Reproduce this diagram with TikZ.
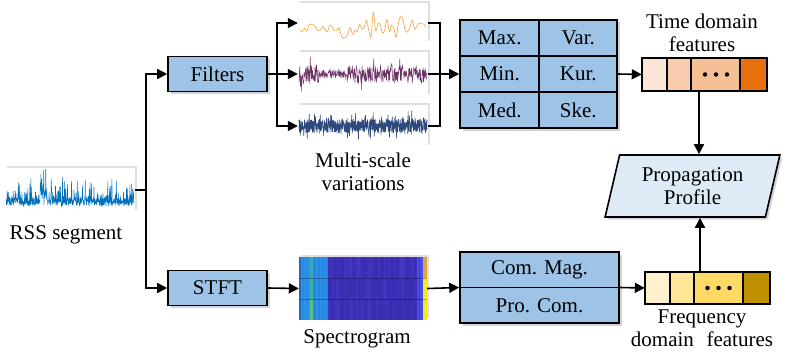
\documentclass[tikz,border=0pt]{standalone}
\usepackage{fontspec}
\setmainfont{Liberation Serif}
\usetikzlibrary{shapes.geometric,shadows,arrows.meta,calc}
\definecolor{boxblue}{HTML}{9DC3E6}
\definecolor{profblue}{HTML}{DEEBF7}
\definecolor{tA}{HTML}{FBE5D6}
\definecolor{tB}{HTML}{F8CBAD}
\definecolor{tC}{HTML}{F6C097}
\definecolor{tD}{HTML}{E8700F}
\definecolor{fA}{HTML}{FFF2CC}
\definecolor{fB}{HTML}{FFE699}
\definecolor{fC}{HTML}{FFD966}
\definecolor{fD}{HTML}{BF9000}
\definecolor{sigorange}{HTML}{F5A33B}
\definecolor{sigpurple}{HTML}{6E3366}
\definecolor{signavy}{HTML}{2E4A7D}
\definecolor{rssblue}{HTML}{0072BD}
\definecolor{spLight}{HTML}{2B93E6}
\definecolor{spMid}{HTML}{2A84E4}
\definecolor{spGreen}{HTML}{38B89A}
\definecolor{spDark}{HTML}{3A2DB0}
\definecolor{spDark2}{HTML}{4538C8}
\definecolor{spEdge}{HTML}{4A4FE6}
\definecolor{spYel}{HTML}{F5E81E}
\definecolor{spOr}{HTML}{E2A535}
\newcommand\fs{\fontsize{21}{23.5}\selectfont}
\begin{document}
\begin{tikzpicture}[x=1pt,y=-1pt,
  every node/.style={font=\fs},
  proc/.style={draw, line width=1.6pt, fill=boxblue, minimum width=99pt, minimum height=35pt,
    drop shadow={shadow xshift=2.5pt, shadow yshift=-2.5pt, opacity=0.35}},
  frame/.style={fill=white, minimum width=130pt, inner sep=0pt,
    drop shadow={shadow xshift=2pt, shadow yshift=2pt, opacity=0.25}},
  cell/.style={draw, line width=1.3pt, minimum width=79pt, minimum height=36pt, inner sep=0pt},
  vcell/.style={draw, line width=1.5pt, minimum height=33pt, inner sep=0pt},
  ln/.style={line width=1.6pt},
  arr/.style={line width=1.6pt, -{Triangle[length=10pt,width=10pt]}},
  dot/.style={circle, fill=black, inner sep=0pt, minimum size=4.5pt}
]
\useasboundingbox (0,0) rectangle (788,353);

% ---------- RSS segment ----------
\node[frame, minimum height=44pt] (rss) at (70,190) {};
\pgfmathsetseed{7}
\draw[rssblue, line width=0.5pt] plot[domain=0:128, samples=500]
  ({6+\x},{206 - 8*rnd - 24*rnd^7 - ifthenelse(\x>34 && \x<41, 16*rnd, 0)});
\node (rsslbl) at (66,235) {RSS segment};

% ---------- Filters / STFT ----------
\node[proc] (filters) at (217.5,74) {Filters};
\node[proc] (stft) at (217.5,288) {STFT};
\coordinate (j1) at ([xshift=11pt]rss.east);
\draw[ln] (rss.east) -- (j1);
\draw[arr] (j1) |- (filters.west);
\draw[arr] (j1) |- (stft.west);

% ---------- multi-scale signals ----------
\node[frame, minimum height=40pt] (sigO) at (363,23) {};
\node[frame, minimum height=44pt] (sigP) at (363,74) {};
\node[frame, minimum height=42pt] (sigB) at (363,126) {};
\pgfmathsetseed{11}
\draw[sigorange, line width=0.6pt] plot[smooth, tension=0.6, domain=0:126, samples=56]
  ({300+\x},{30 - (2*rnd-0.7)*(2+13*rnd^1.3)});
\pgfmathsetseed{3}
\draw[sigpurple, line width=0.5pt] plot[domain=0:128, samples=330]
  ({299+\x},{74 + ifthenelse(\x>20 && \x<48, 4, 9)*(2*rnd-1)*(1+1.2*(rnd>0.88))});
\pgfmathsetseed{5}
\draw[signavy, line width=0.6pt] plot[domain=0:128, samples=700]
  ({299+\x},{126 + 7*(2*rnd-1) - 10*rnd^14 + 9*rnd^16});
\node[align=center] (mslbl) at (363,172) {Multi-scale\\variations};

\coordinate (j2) at ([xshift=9pt]filters.east);
\draw[ln] (filters.east) -- (j2);
\draw[arr] (j2) |- (sigO.west);
\draw[arr] (j2) -- (sigP.west);
\draw[arr] (j2) |- (sigB.west);

% ---------- statistics table ----------
\node[draw, line width=1.6pt, fill=boxblue, minimum width=157pt, minimum height=108pt,
  drop shadow={shadow xshift=2.5pt, shadow yshift=-2.5pt, opacity=0.35}] (tbl) at (538.5,74) {};
\node[cell] (c11) at (499.75,38) {Max.};
\node[cell] (c12) at (578.25,38) {Var.};
\node[cell] (c21) at (499.75,74) {Min.};
\node[cell] (c22) at (578.25,74) {Kur.};
\node[cell] (c31) at (499.75,110) {Med.};
\node[cell] (c32) at (578.25,110) {Ske.};

\coordinate (j3) at ([xshift=12pt]sigO.east);
\draw[ln] (sigO.east) -- (j3) |- (sigB.east);
\draw[arr] (sigP.east) -- (tbl.west);

% ---------- time-domain feature vector ----------
\node[minimum width=125pt, minimum height=33pt, inner sep=0pt] (tv) at (704.5,74.5) {};
\node[vcell, fill=tA, minimum width=25pt] (t1) at (654.5,74.5) {};
\node[vcell, fill=tB, minimum width=24pt] (t2) at (679,74.5) {};
\node[vcell, fill=tC, minimum width=49pt] (t3) at (715.5,74.5) {};
\node[vcell, fill=tD, minimum width=27pt] (t4) at (753.5,74.5) {};
\node[dot] (td1) at (705,74.5) {};
\node[dot] (td2) at (716,74.5) {};
\node[dot] (td3) at (727,74.5) {};
\node[align=center] (tlbl) at (702,33) {Time domain\\features};
\draw[arr] (tbl.east) -- (tv.west);

% ---------- propagation profile ----------
\node[trapezium, trapezium left angle=75, trapezium right angle=105, trapezium stretches=true,
  draw, line width=1.6pt, fill=profblue, minimum width=175pt, minimum height=62pt,
  align=center, inner sep=0pt,
  drop shadow={shadow xshift=2.5pt, shadow yshift=-2.5pt, opacity=0.35}] (prof) at (692.5,186)
  {Propagation\\Profile};
\draw[arr] ([xshift=-5.5pt]tv.south) -- ([xshift=-5.5pt]tv.south |- prof.north);

% ---------- spectrogram ----------
\node[frame, minimum width=128pt, minimum height=63pt] (spec) at (363,288.5) {};
\fill[spLight] (299,257) rectangle (310,320);
\fill[spMid!80!black] (299,257) rectangle (301,320);
\foreach \xx in {303,306} { \fill[spMid] (\xx,257) rectangle (\xx+1,320); }
\fill[spGreen!70!spLight] (310,257) rectangle (312.5,278);
\fill[spGreen!85!spLight] (310,278) rectangle (312.5,299);
\fill[spGreen!80!yellow!90!spLight] (310,299) rectangle (312.5,320);
\fill[spMid] (312.5,257) rectangle (328,320);
\foreach \xx in {316,320,324} { \fill[spLight] (\xx,257) rectangle (\xx+1.5,320); }
\pgfmathsetseed{21}
\foreach \i in {0,...,44} {
  \foreach \r in {0,1,2} {
    \pgfmathsetmacro{\mixv}{int(100*rnd^2.5)}
    \fill[spDark2!\mixv!spDark] ({328+2*\i},{257+21*\r}) rectangle ({330+2*\i},{278+21*\r});
  }
}
\fill[spEdge] (417,257) rectangle (423,320);
\fill[spDark2] (419,257) rectangle (420,320);
\fill[spOr] (423,257) rectangle (427,278);
\fill[spYel] (423,278) rectangle (427,320);
\draw[black, opacity=0.3, line width=0.5pt] (299,278) -- (427,278) (299,299) -- (427,299);
\node (speclbl) at (357,339) {Spectrogram};
\draw[arr] (stft.east) -- (spec.west);

% ---------- frequency table ----------
\node[draw, line width=1.6pt, fill=boxblue, minimum width=159pt, minimum height=71pt,
  drop shadow={shadow xshift=2.5pt, shadow yshift=-2.5pt, opacity=0.35}] (ct) at (539.5,287.5) {};
\node[draw, line width=1.3pt, minimum width=159pt, minimum height=35.5pt, inner sep=0pt] (ct1) at (539.5,269.75) {Com. Mag.};
\node[draw, line width=1.3pt, minimum width=159pt, minimum height=35.5pt, inner sep=0pt] (ct2) at (539.5,305.25) {Pro. Com.};
\draw[arr] (spec.east) -- (ct.west);

% ---------- frequency-domain feature vector ----------
\node[minimum width=125pt, minimum height=32pt, inner sep=0pt] (fv) at (707.5,288) {};
\node[vcell, fill=fA, minimum width=25pt, minimum height=32pt] (f1) at (657.5,288) {};
\node[vcell, fill=fB, minimum width=24pt, minimum height=32pt] (f2) at (682,288) {};
\node[vcell, fill=fC, minimum width=49pt, minimum height=32pt] (f3) at (718.5,288) {};
\node[vcell, fill=fD, minimum width=27pt, minimum height=32pt] (f4) at (756.5,288) {};
\node[dot] (fd1) at (707.5,288) {};
\node[dot] (fd2) at (718.5,288) {};
\node[dot] (fd3) at (729.5,288) {};
\node[align=center, inner sep=1pt] (flbl) at (702,328) {Frequency\\domain\hspace{0.6em}features};
\draw[arr] (ct.east) -- (fv.west);
\draw[arr] ([xshift=-7.5pt]fv.north) -- ([xshift=-7.5pt]fv.north |- prof.south);
\end{tikzpicture}
\end{document}
